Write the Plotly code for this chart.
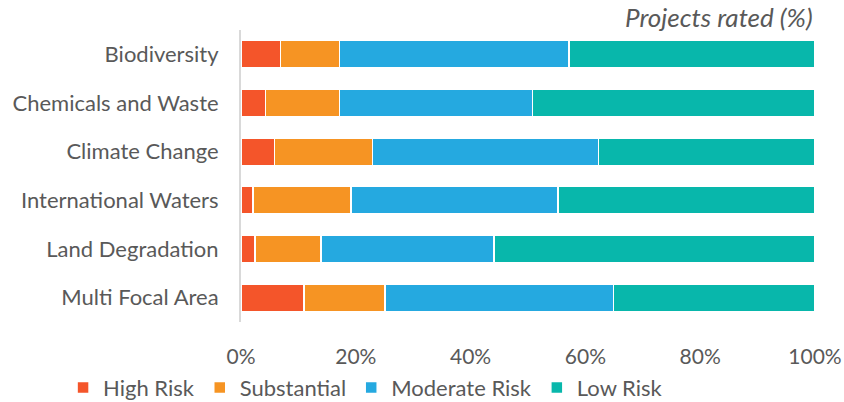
import plotly.graph_objects as go

# Share of projects in each risk rating, by focal area (%)
categories = [
    "Biodiversity",
    "Chemicals and Waste",
    "Climate Change",
    "International Waters",
    "Land Degradation",
    "Multi Focal Area",
]
high_risk = [6.9, 4.3, 5.8, 2.1, 2.4, 11.0]
substantial = [10.3, 12.9, 17.1, 17.1, 11.5, 14.1]
moderate_risk = [39.9, 33.6, 39.4, 36.0, 30.2, 39.8]
low_risk = [42.9, 49.2, 37.7, 44.8, 55.9, 35.1]

tick_vals = [0, 20, 40, 60, 80, 100]
tick_text = ["0%", "20%", "40%", "60%", "80%", "100%"]

series = [
    ("High Risk", high_risk, "#F4552A"),
    ("Substantial", substantial, "#F69423"),
    ("Moderate Risk", moderate_risk, "#25A9E0"),
    ("Low Risk", low_risk, "#08B7AB"),
]

FONT = "Lato"
GREY = "#595959"

fig = go.Figure()
for name, vals, color in series:
    fig.add_trace(
        go.Bar(
            y=categories,
            x=vals,
            name=name,
            orientation="h",
            marker=dict(color=color, line=dict(color="white", width=1.5)),
        )
    )

fig.update_layout(
    barmode="stack",
    bargap=0.43,
    width=844,
    height=402,
    margin=dict(l=241, r=29, t=30, b=80, autoexpand=False),
    paper_bgcolor="white",
    plot_bgcolor="white",
    font=dict(family=FONT, size=21, color=GREY),
    showlegend=True,
    legend=dict(
        orientation="h",
        x=-0.31,
        xanchor="left",
        y=-0.225,
        yanchor="middle",
        font=dict(size=22, color=GREY),
        itemwidth=30,
        traceorder="normal",
    ),
    xaxis=dict(
        range=[0, 100],
        tickvals=tick_vals,
        ticktext=tick_text,
        showgrid=False,
        zeroline=False,
        showline=False,
        automargin=False,
        ticklabelstandoff=20,
        tickfont=dict(size=21, color=GREY),
        fixedrange=True,
    ),
    yaxis=dict(
        autorange="reversed",
        showgrid=False,
        showline=True,
        linecolor="#D9D9D9",
        linewidth=2,
        ticks="",
        automargin=False,
        ticklabelstandoff=16,
        tickfont=dict(size=22, color=GREY),
        fixedrange=True,
    ),
    annotations=[
        dict(
            text="<i>Projects rated (%)</i>",
            xref="paper",
            yref="paper",
            x=1.0,
            y=1.0,
            xanchor="right",
            yanchor="bottom",
            yshift=-5,
            showarrow=False,
            font=dict(family=FONT, size=26, color=GREY),
        )
    ],
)

fig.write_html("out.html")
